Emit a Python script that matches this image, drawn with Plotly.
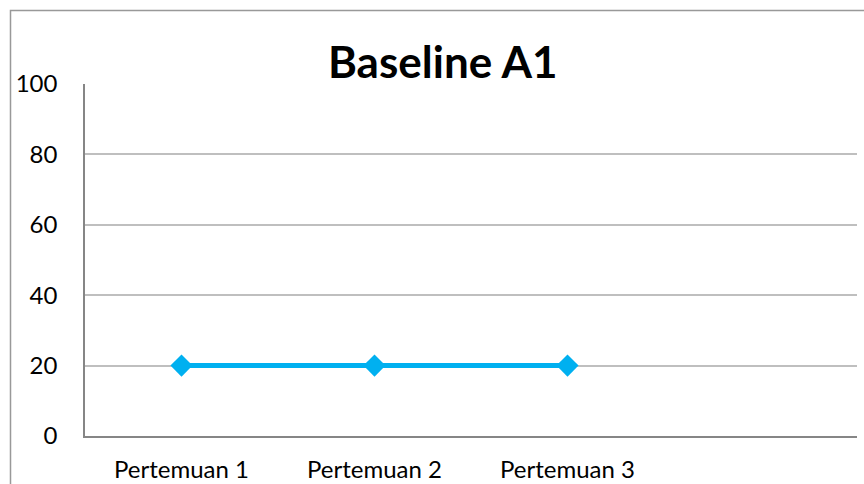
import plotly.graph_objects as go

categories = ["Pertemuan 1", "Pertemuan 2", "Pertemuan 3", " "]
values = [20, 20, 20, None]
y_ticks = [0, 20, 40, 60, 80, 100]
title_text = "Baseline A1"

W, H = 864, 484
L, R, T, B = 85, 7, 84, 48
pw, ph = W - L - R, H - T - B

def px_x(p):
    return (p - L) / pw

def px_y(p):
    return (H - B - p) / ph

FONT = "Lato, Carlito, sans-serif"

fig = go.Figure()
fig.add_trace(go.Scatter(
    x=categories, y=values, mode="lines+markers",
    line=dict(color="#00B0F0", width=5),
    marker=dict(symbol="diamond", size=17, color="#00B0F0"),
    showlegend=False, cliponaxis=False, hoverinfo="skip",
))

fig.update_layout(
    width=W, height=H,
    margin=dict(l=L, r=R, t=T, b=B, autoexpand=False),
    paper_bgcolor="white", plot_bgcolor="white",
    font=dict(family=FONT, color="#000000", size=24),
    xaxis=dict(
        type="category", categoryorder="array", categoryarray=categories,
        range=[-0.5, 3.5], showgrid=False, showline=True, linecolor="#868686",
        linewidth=1.5, ticks="", tickfont=dict(size=24), ticklabelstandoff=11,
        zeroline=False, automargin=False,
    ),
    yaxis=dict(
        range=[0, 100], tickvals=y_ticks, showgrid=True, gridcolor="#BFBFBF",
        gridwidth=1.5, showline=True, linecolor="#868686", linewidth=1.5,
        ticks="", tickfont=dict(size=24), ticklabelstandoff=21, zeroline=False,
        automargin=False,
    ),
    shapes=[dict(
        type="rect", xref="paper", yref="paper",
        x0=px_x(10.5), x1=px_x(W + 20), y0=px_y(H + 20), y1=px_y(10.5),
        line=dict(color="#999999", width=1.5), fillcolor="rgba(0,0,0,0)",
        layer="below",
    )],
    annotations=[dict(
        text="<b>" + title_text + "</b>", xref="paper", yref="paper",
        x=px_x(443), y=px_y(61), xanchor="center", yanchor="middle",
        showarrow=False, font=dict(size=44, family=FONT),
    )],
)

fig.write_html("out.html", config={"displayModeBar": False},
               post_script="document.body.style.margin='0px';")
